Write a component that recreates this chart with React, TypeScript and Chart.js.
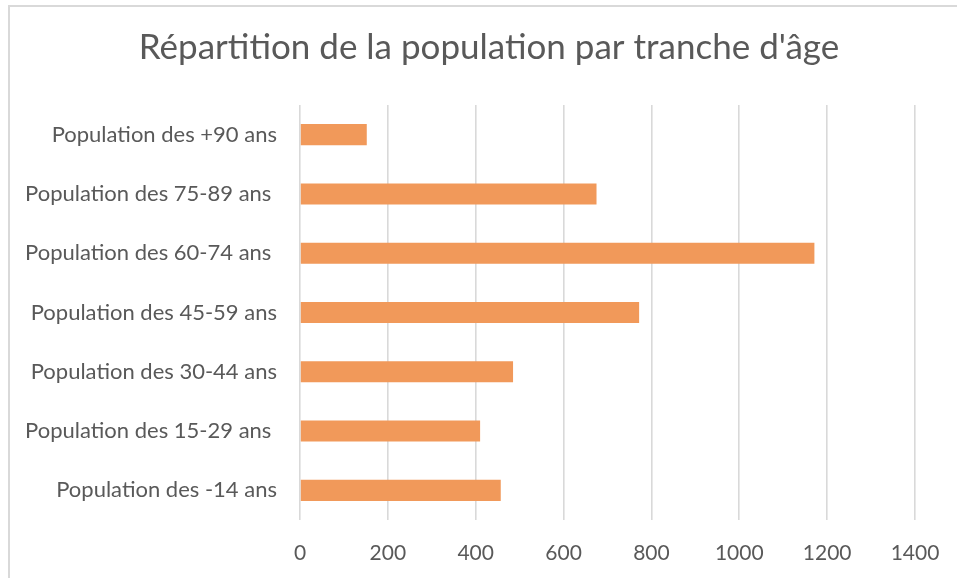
import React, { useEffect, useRef } from "react";
import { Chart, registerables } from "chart.js";

Chart.register(...registerables);

const categories = [
  "Population des +90 ans",
  "Population des 75-89 ans ",
  "Population des 60-74 ans ",
  "Population des 45-59 ans",
  "Population des 30-44 ans",
  "Population des 15-29 ans ",
  "Population des -14 ans",
];
const values = [152, 675, 1171, 772, 485, 410, 457];
const xTicks = [0, 200, 400, 600, 800, 1000, 1200, 1400];
const titleText = "Répartition de la population par tranche d'âge";

const FONT = "Lato, 'Open Sans', sans-serif";
const TEXT = "#595959";

const titlePlugin = {
  id: "customTitle",
  afterDraw(chart: any) {
    const ctx = chart.ctx;
    ctx.save();
    ctx.fillStyle = TEXT;
    ctx.font = `35px ${FONT}`;
    ctx.textAlign = "center";
    ctx.textBaseline = "middle";
    ctx.fillText(titleText, 489, 48);
    ctx.restore();
  },
};

export default function App() {
  const ref = useRef<HTMLCanvasElement | null>(null);

  useEffect(() => {
    if (!ref.current) return;
    const chart = new Chart(ref.current, {
      type: "bar",
      data: {
        labels: categories,
        datasets: [
          {
            data: values,
            backgroundColor: "#F1995A",
            borderWidth: 0,
            categoryPercentage: 1,
            barPercentage: 0.355,
          },
        ],
      },
      options: {
        indexAxis: "y",
        animation: false,
        responsive: false,
        maintainAspectRatio: false,
        layout: { padding: { left: 0, right: 42, top: 105, bottom: 0 } },
        plugins: {
          legend: { display: false },
          tooltip: { enabled: false },
          title: { display: false },
        },
        scales: {
          x: {
            min: 0,
            max: 1400,
            afterBuildTicks: (s: any) => {
              s.ticks = xTicks.map((v) => ({ value: v }));
            },
            afterFit: (s: any) => {
              s.height = 58;
              s.paddingRight = 0;
              s.paddingLeft = 0;
            },
            grid: { color: "#d9d9d9", lineWidth: 1.6, drawTicks: false },
            border: { display: false },
            ticks: {
              color: TEXT,
              font: { family: FONT, size: 21 },
              padding: 21,
              callback: (v: any) => String(v),
            },
          },
          y: {
            afterFit: (s: any) => {
              s.width = 300;
            },
            grid: { display: false, drawTicks: false },
            border: { display: false },
            ticks: {
              color: TEXT,
              font: { family: FONT, size: 22 },
              padding: 23,
            },
          },
        },
      },
      plugins: [titlePlugin],
    });
    return () => chart.destroy();
  }, []);

  return (
    <div style={{ position: "fixed", left: 0, top: 0, width: 957, height: 578, background: "#fff" }}>
      <canvas ref={ref} width={957} height={578} style={{ position: "absolute", left: 0, top: 0 }} />
      <div
        style={{
          position: "absolute",
          left: 8,
          top: 5,
          width: 960,
          height: 600,
          borderLeft: "2px solid #d9d9d9",
          borderTop: "2px solid #d9d9d9",
          pointerEvents: "none",
        }}
      />
    </div>
  );
}
